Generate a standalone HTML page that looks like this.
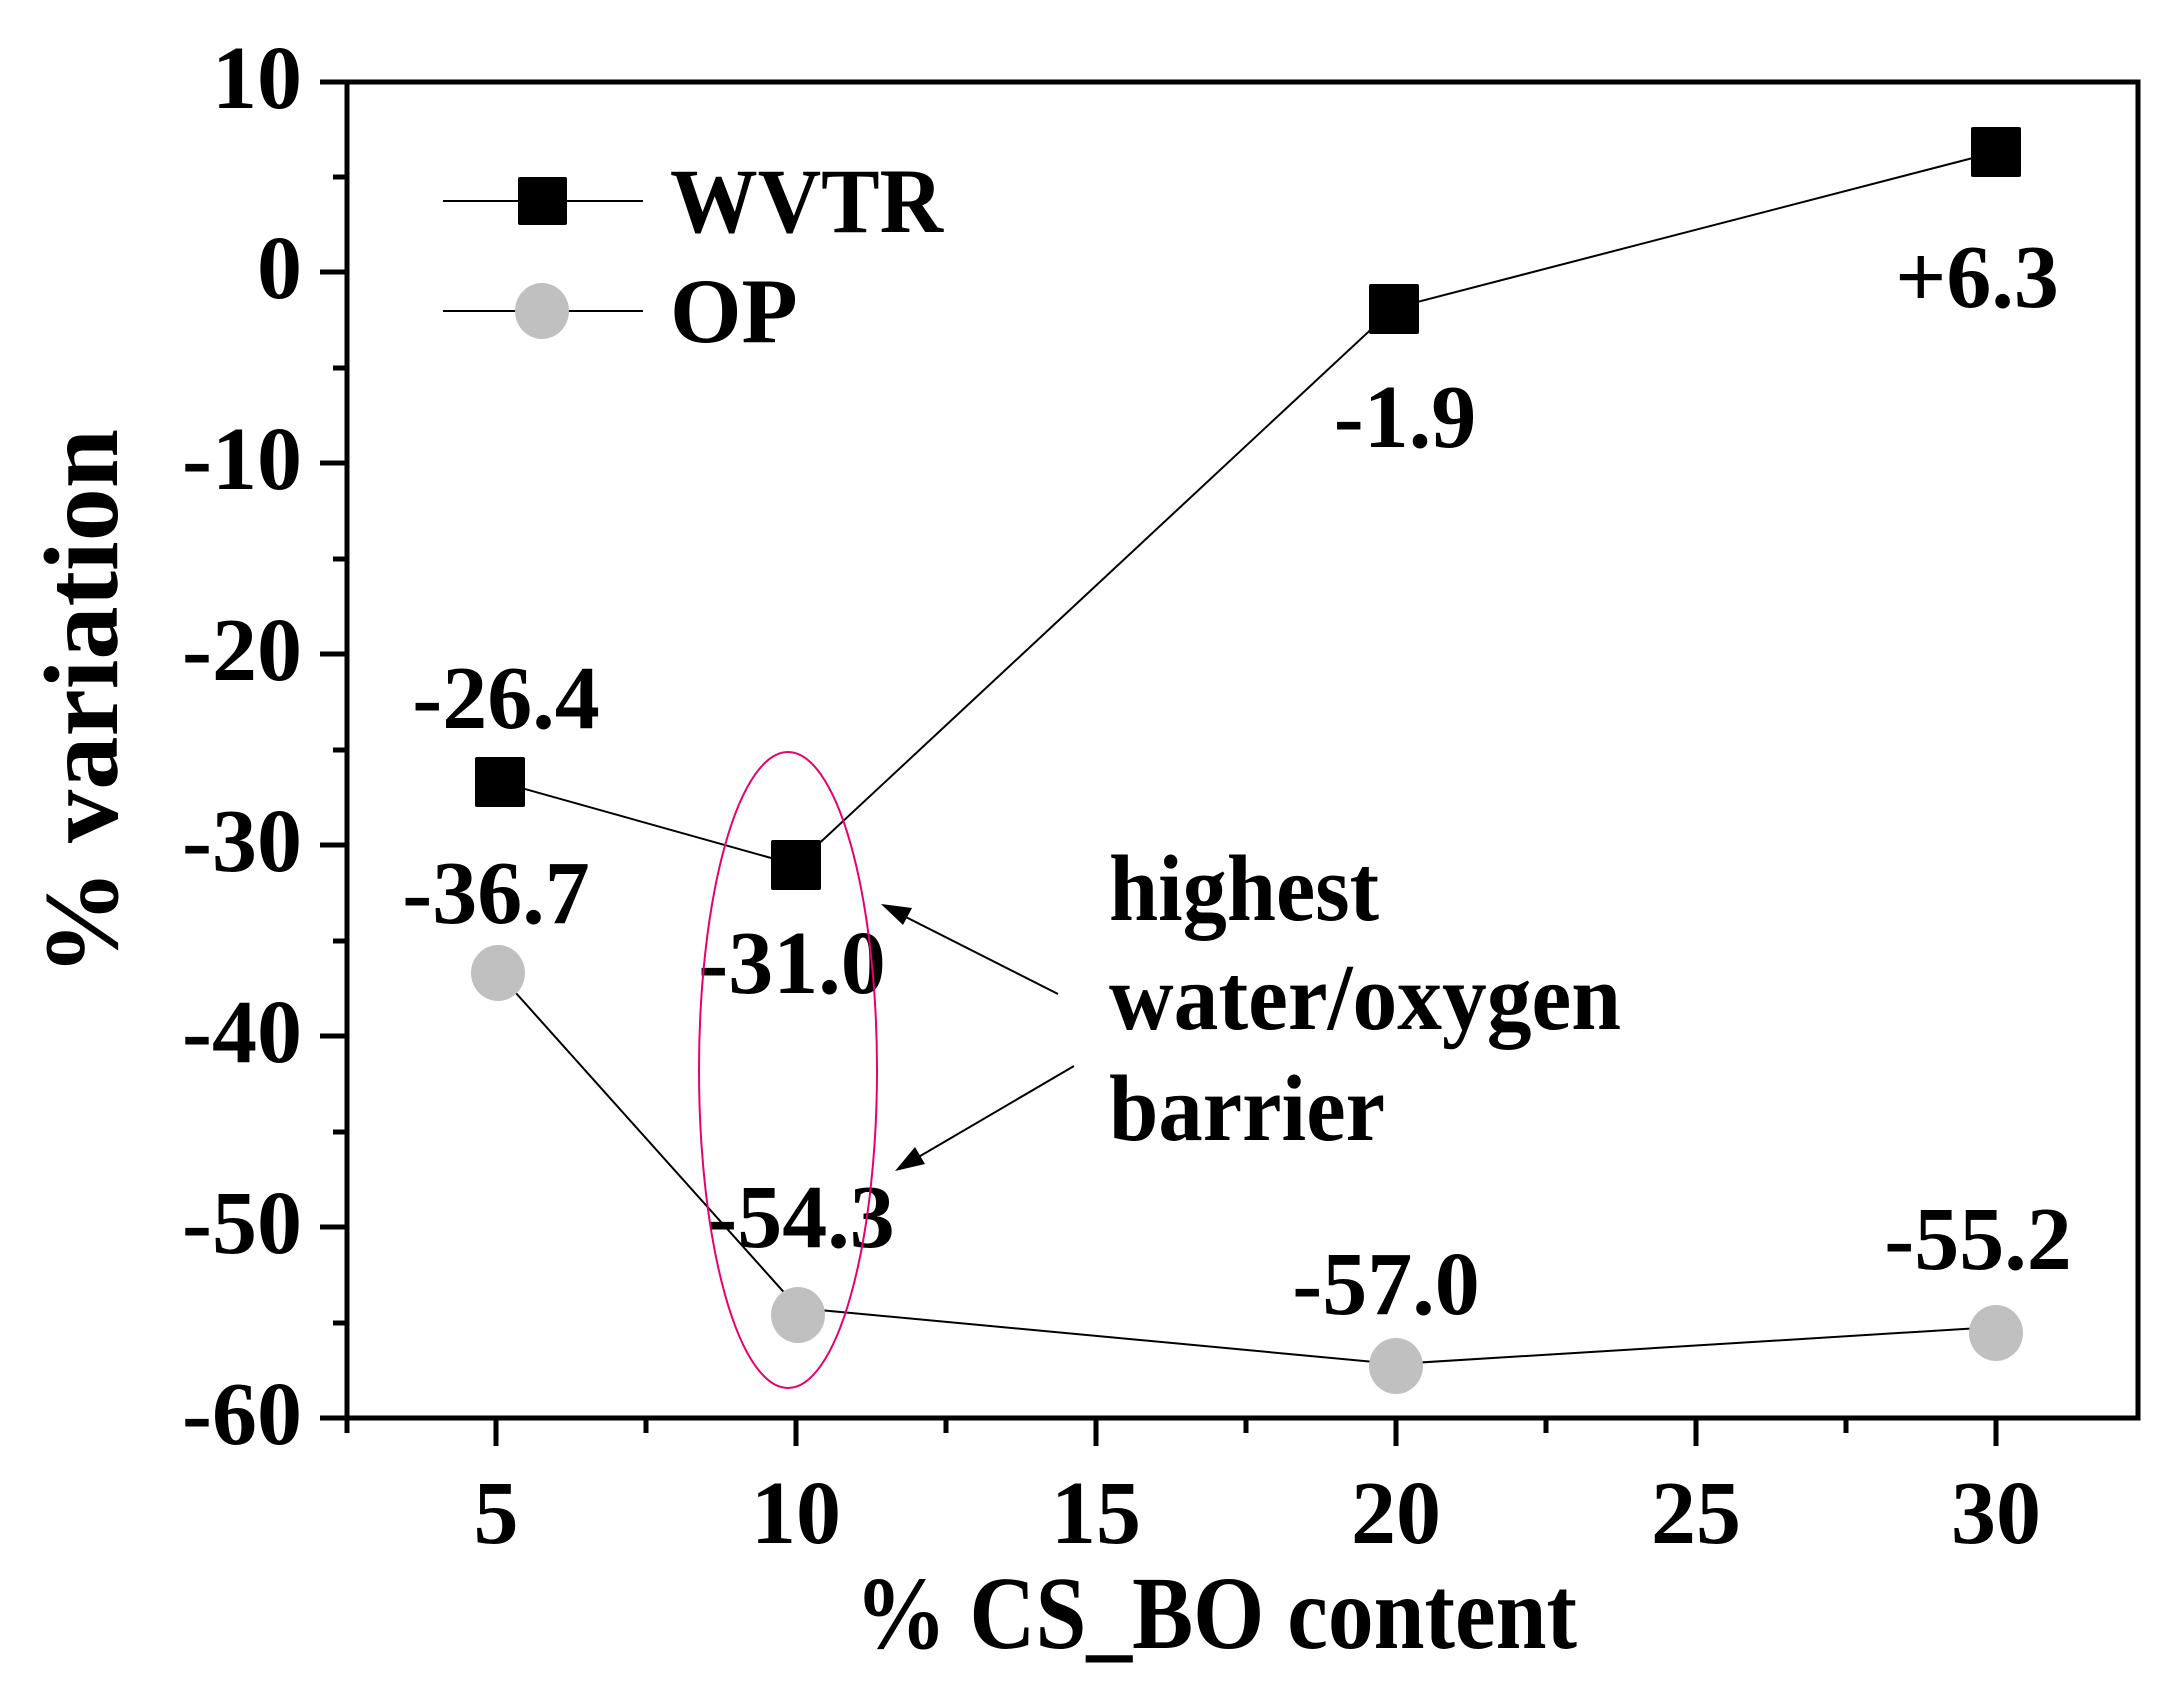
<!DOCTYPE html>
<html><head><meta charset="utf-8"><style>
html,body{margin:0;padding:0;background:#fff;}
svg{display:block;}
text{font-family:"Liberation Serif",serif;font-weight:bold;fill:#000;}
</style></head><body>
<svg width="2181" height="1688" viewBox="0 0 2181 1688" xmlns="http://www.w3.org/2000/svg">
<defs>
<marker id="ah" markerWidth="12" markerHeight="10" refX="11" refY="5" orient="auto" markerUnits="userSpaceOnUse">
<path d="M0,0 L40,5 L0,10 Z" transform="scale(0.3,1)"/>
</marker>
</defs>
<!-- frame -->
<rect x="347" y="82" width="1791" height="1336" fill="none" stroke="#000" stroke-width="5"/>
<!-- y ticks -->
<g stroke="#000" stroke-width="5">
<line x1="320" y1="82" x2="347" y2="82"/>
<line x1="320" y1="272" x2="347" y2="272"/>
<line x1="320" y1="463" x2="347" y2="463"/>
<line x1="320" y1="654" x2="347" y2="654"/>
<line x1="320" y1="845" x2="347" y2="845"/>
<line x1="320" y1="1036" x2="347" y2="1036"/>
<line x1="320" y1="1227" x2="347" y2="1227"/>
<line x1="320" y1="1418" x2="347" y2="1418"/>
<line x1="333" y1="177" x2="347" y2="177"/>
<line x1="333" y1="368" x2="347" y2="368"/>
<line x1="333" y1="559" x2="347" y2="559"/>
<line x1="333" y1="750" x2="347" y2="750"/>
<line x1="333" y1="941" x2="347" y2="941"/>
<line x1="333" y1="1132" x2="347" y2="1132"/>
<line x1="333" y1="1323" x2="347" y2="1323"/>
<!-- x ticks -->
<line x1="496" y1="1418" x2="496" y2="1446"/>
<line x1="796" y1="1418" x2="796" y2="1446"/>
<line x1="1096" y1="1418" x2="1096" y2="1446"/>
<line x1="1396" y1="1418" x2="1396" y2="1446"/>
<line x1="1696" y1="1418" x2="1696" y2="1446"/>
<line x1="1996" y1="1418" x2="1996" y2="1446"/>
<line x1="347" y1="1418" x2="347" y2="1433"/>
<line x1="646" y1="1418" x2="646" y2="1433"/>
<line x1="946" y1="1418" x2="946" y2="1433"/>
<line x1="1246" y1="1418" x2="1246" y2="1433"/>
<line x1="1546" y1="1418" x2="1546" y2="1433"/>
<line x1="1846" y1="1418" x2="1846" y2="1433"/>
</g>
<!-- y labels -->
<g font-size="90" text-anchor="end">
<text x="302" y="108">10</text>
<text x="302" y="298">0</text>
<text x="302" y="489">-10</text>
<text x="302" y="680">-20</text>
<text x="302" y="871">-30</text>
<text x="302" y="1062">-40</text>
<text x="302" y="1253">-50</text>
<text x="302" y="1444">-60</text>
</g>
<!-- x labels -->
<g font-size="90" text-anchor="middle">
<text x="496" y="1543">5</text>
<text x="796" y="1543">10</text>
<text x="1096" y="1543">15</text>
<text x="1396" y="1543">20</text>
<text x="1696" y="1543">25</text>
<text x="1996" y="1543">30</text>
</g>
<text x="855" y="1648" font-size="104" textLength="722" lengthAdjust="spacingAndGlyphs">% CS_BO content</text>
<text transform="translate(117,976) rotate(-90)" font-size="106" textLength="547" lengthAdjust="spacingAndGlyphs">% variation</text>
<!-- series lines -->
<polyline points="500,782 796,865 1394,308 1996,152" fill="none" stroke="#000" stroke-width="2"/>
<polyline points="498,973 798,1308 1396,1364 1996,1327" fill="none" stroke="#000" stroke-width="2"/>
<!-- markers -->
<g fill="#000">
<rect x="475" y="757" width="50" height="50" rx="2"/>
<rect x="771" y="840" width="50" height="50" rx="2"/>
<rect x="1369" y="284" width="50" height="50" rx="2"/>
<rect x="1971" y="127" width="50" height="50" rx="2"/>
</g>
<g fill="#c0c0c0">
<ellipse cx="498" cy="973" rx="27" ry="28"/>
<ellipse cx="798" cy="1315" rx="27" ry="28"/>
<ellipse cx="1396" cy="1366" rx="27" ry="28"/>
<ellipse cx="1996" cy="1333" rx="27" ry="28"/>
</g>
<!-- legend -->
<line x1="443" y1="201" x2="643" y2="201" stroke="#000" stroke-width="2"/>
<rect x="518" y="177" width="49" height="48" rx="2" fill="#000"/>
<line x1="443" y1="311" x2="643" y2="311" stroke="#000" stroke-width="2"/>
<ellipse cx="542" cy="311" rx="27" ry="28" fill="#c0c0c0"/>
<text x="670" y="232" font-size="92" textLength="273" lengthAdjust="spacingAndGlyphs">WVTR</text>
<text x="670" y="342" font-size="92">OP</text>
<!-- value labels -->
<g font-size="90" text-anchor="middle">
<text x="506" y="728">-26.4</text>
<text x="792" y="993">-31.0</text>
<text x="1405" y="447">-1.9</text>
<text x="1977" y="307">+6.3</text>
<text x="496" y="923">-36.7</text>
<text x="801" y="1247">-54.3</text>
<text x="1386" y="1314">-57.0</text>
<text x="1978" y="1269">-55.2</text>
</g>
<!-- annotation -->
<g font-size="94">
<text x="1109" y="920" textLength="270" lengthAdjust="spacingAndGlyphs">highest</text>
<text x="1109" y="1029" textLength="512" lengthAdjust="spacingAndGlyphs">water/oxygen</text>
<text x="1109" y="1140" textLength="276" lengthAdjust="spacingAndGlyphs">barrier</text>
</g>
<ellipse cx="788" cy="1070" rx="89" ry="318" fill="none" stroke="#e8006c" stroke-width="2"/>
<line x1="1058" y1="994" x2="884" y2="906" stroke="#000" stroke-width="2"/>
<polygon points="881,904 912,908 903,925" fill="#000"/>
<line x1="1074" y1="1066" x2="898" y2="1169" stroke="#000" stroke-width="2"/>
<polygon points="895,1171 915,1147 925,1164" fill="#000"/>
</svg>
</body></html>
